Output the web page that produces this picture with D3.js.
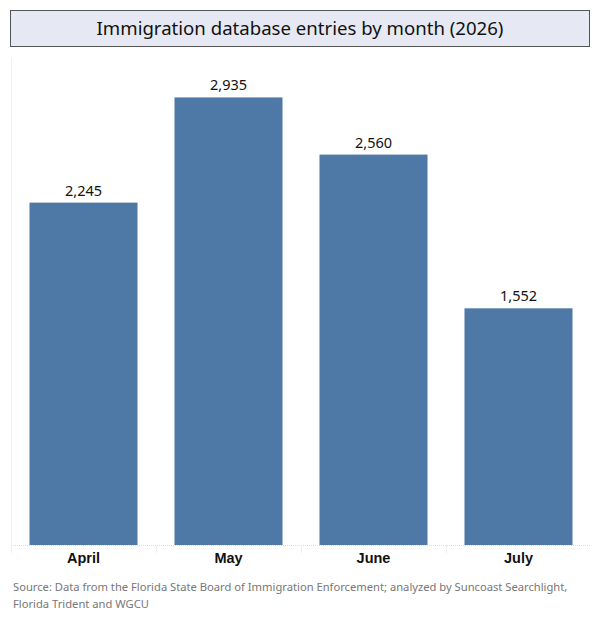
<!DOCTYPE html>
<html lang="en">
<head>
<meta charset="UTF-8">
<script src="https://d3js.org/d3.v7.min.js"></script>
<style>
  body { margin: 0; background: #fff; }
  svg { font-family: "Noto Sans", "Open Sans", sans-serif; }
  .title { font-size: 18.6px; fill: #111; }
  .value { font-size: 14.5px; fill: #111; }
  .month { font-size: 14.5px; font-weight: bold; fill: #111; }
  .source { font-size: 11.2px; fill: #777; }
</style>
</head>
<body>
<script>
// Data
const months = ["April", "May", "June", "July"];
const entries = [2245, 2935, 2560, 1552];
const yMax = 3200;

const width = 600, height = 619;
const plotLeft = 11, plotRight = 591, plotTop = 57, plotBottom = 545;

const svg = d3.select("body").append("svg")
  .attr("width", width)
  .attr("height", height);

// Title box
svg.append("rect")
  .attr("x", 10.5).attr("y", 10.5)
  .attr("width", 579).attr("height", 36)
  .attr("fill", "#e6e9f3")
  .attr("stroke", "#555")
  .attr("stroke-width", 1);

svg.append("text")
  .attr("class", "title")
  .attr("x", 300).attr("y", 35)
  .attr("text-anchor", "middle")
  .text("Immigration database entries by month (2026)");

const x = d3.scaleBand()
  .domain(months)
  .range([plotLeft, plotRight])
  .paddingInner(0.255)
  .paddingOuter(0.1275);

const y = d3.scaleLinear()
  .domain([0, yMax])
  .range([plotBottom, plotTop]);

// faint pane border and baseline
svg.append("line")
  .attr("x1", plotLeft + 0.5).attr("x2", plotLeft + 0.5)
  .attr("y1", plotTop).attr("y2", plotBottom)
  .attr("stroke", "#f0f0f0");

svg.append("line")
  .attr("x1", plotLeft).attr("x2", plotRight - 1)
  .attr("y1", plotBottom + 0.5).attr("y2", plotBottom + 0.5)
  .attr("stroke", "#ddd")
  .attr("stroke-dasharray", "1,1");

// category separators below baseline
svg.selectAll(".sep")
  .data(d3.range(months.length))
  .enter().append("line")
  .attr("class", "sep")
  .attr("x1", i => plotLeft + i * x.step() + 0.5)
  .attr("x2", i => plotLeft + i * x.step() + 0.5)
  .attr("y1", plotBottom)
  .attr("y2", plotBottom + 8)
  .attr("stroke", "#eee");

// Bars
svg.selectAll(".bar")
  .data(months)
  .enter().append("rect")
  .attr("class", "bar")
  .attr("x", d => x(d))
  .attr("y", (d, i) => y(entries[i]))
  .attr("width", x.bandwidth())
  .attr("height", (d, i) => plotBottom - y(entries[i]))
  .attr("fill", "#4e79a7");

// Value labels
svg.selectAll(".value")
  .data(months)
  .enter().append("text")
  .attr("class", "value")
  .attr("x", d => x(d) + x.bandwidth() / 2)
  .attr("y", (d, i) => y(entries[i]) - 7)
  .attr("text-anchor", "middle")
  .text((d, i) => d3.format(",")(entries[i]));

// Month axis
const xAxis = svg.append("g")
  .attr("transform", `translate(0,${plotBottom})`)
  .call(d3.axisBottom(x).tickSize(0).tickPadding(8));
xAxis.select(".domain").remove();
xAxis.selectAll("text")
  .attr("class", "month")
  .attr("font-family", null)
  .attr("font-size", null)
  .attr("fill", null);

// Source
const src = svg.append("text")
  .attr("class", "source")
  .attr("x", 13).attr("y", 591);
src.append("tspan").attr("x", 13)
  .text("Source: Data from the Florida State Board of Immigration Enforcement; analyzed by Suncoast Searchlight,");
src.append("tspan").attr("x", 13).attr("dy", 17)
  .text("Florida Trident and WGCU");
</script>
</body>
</html>
